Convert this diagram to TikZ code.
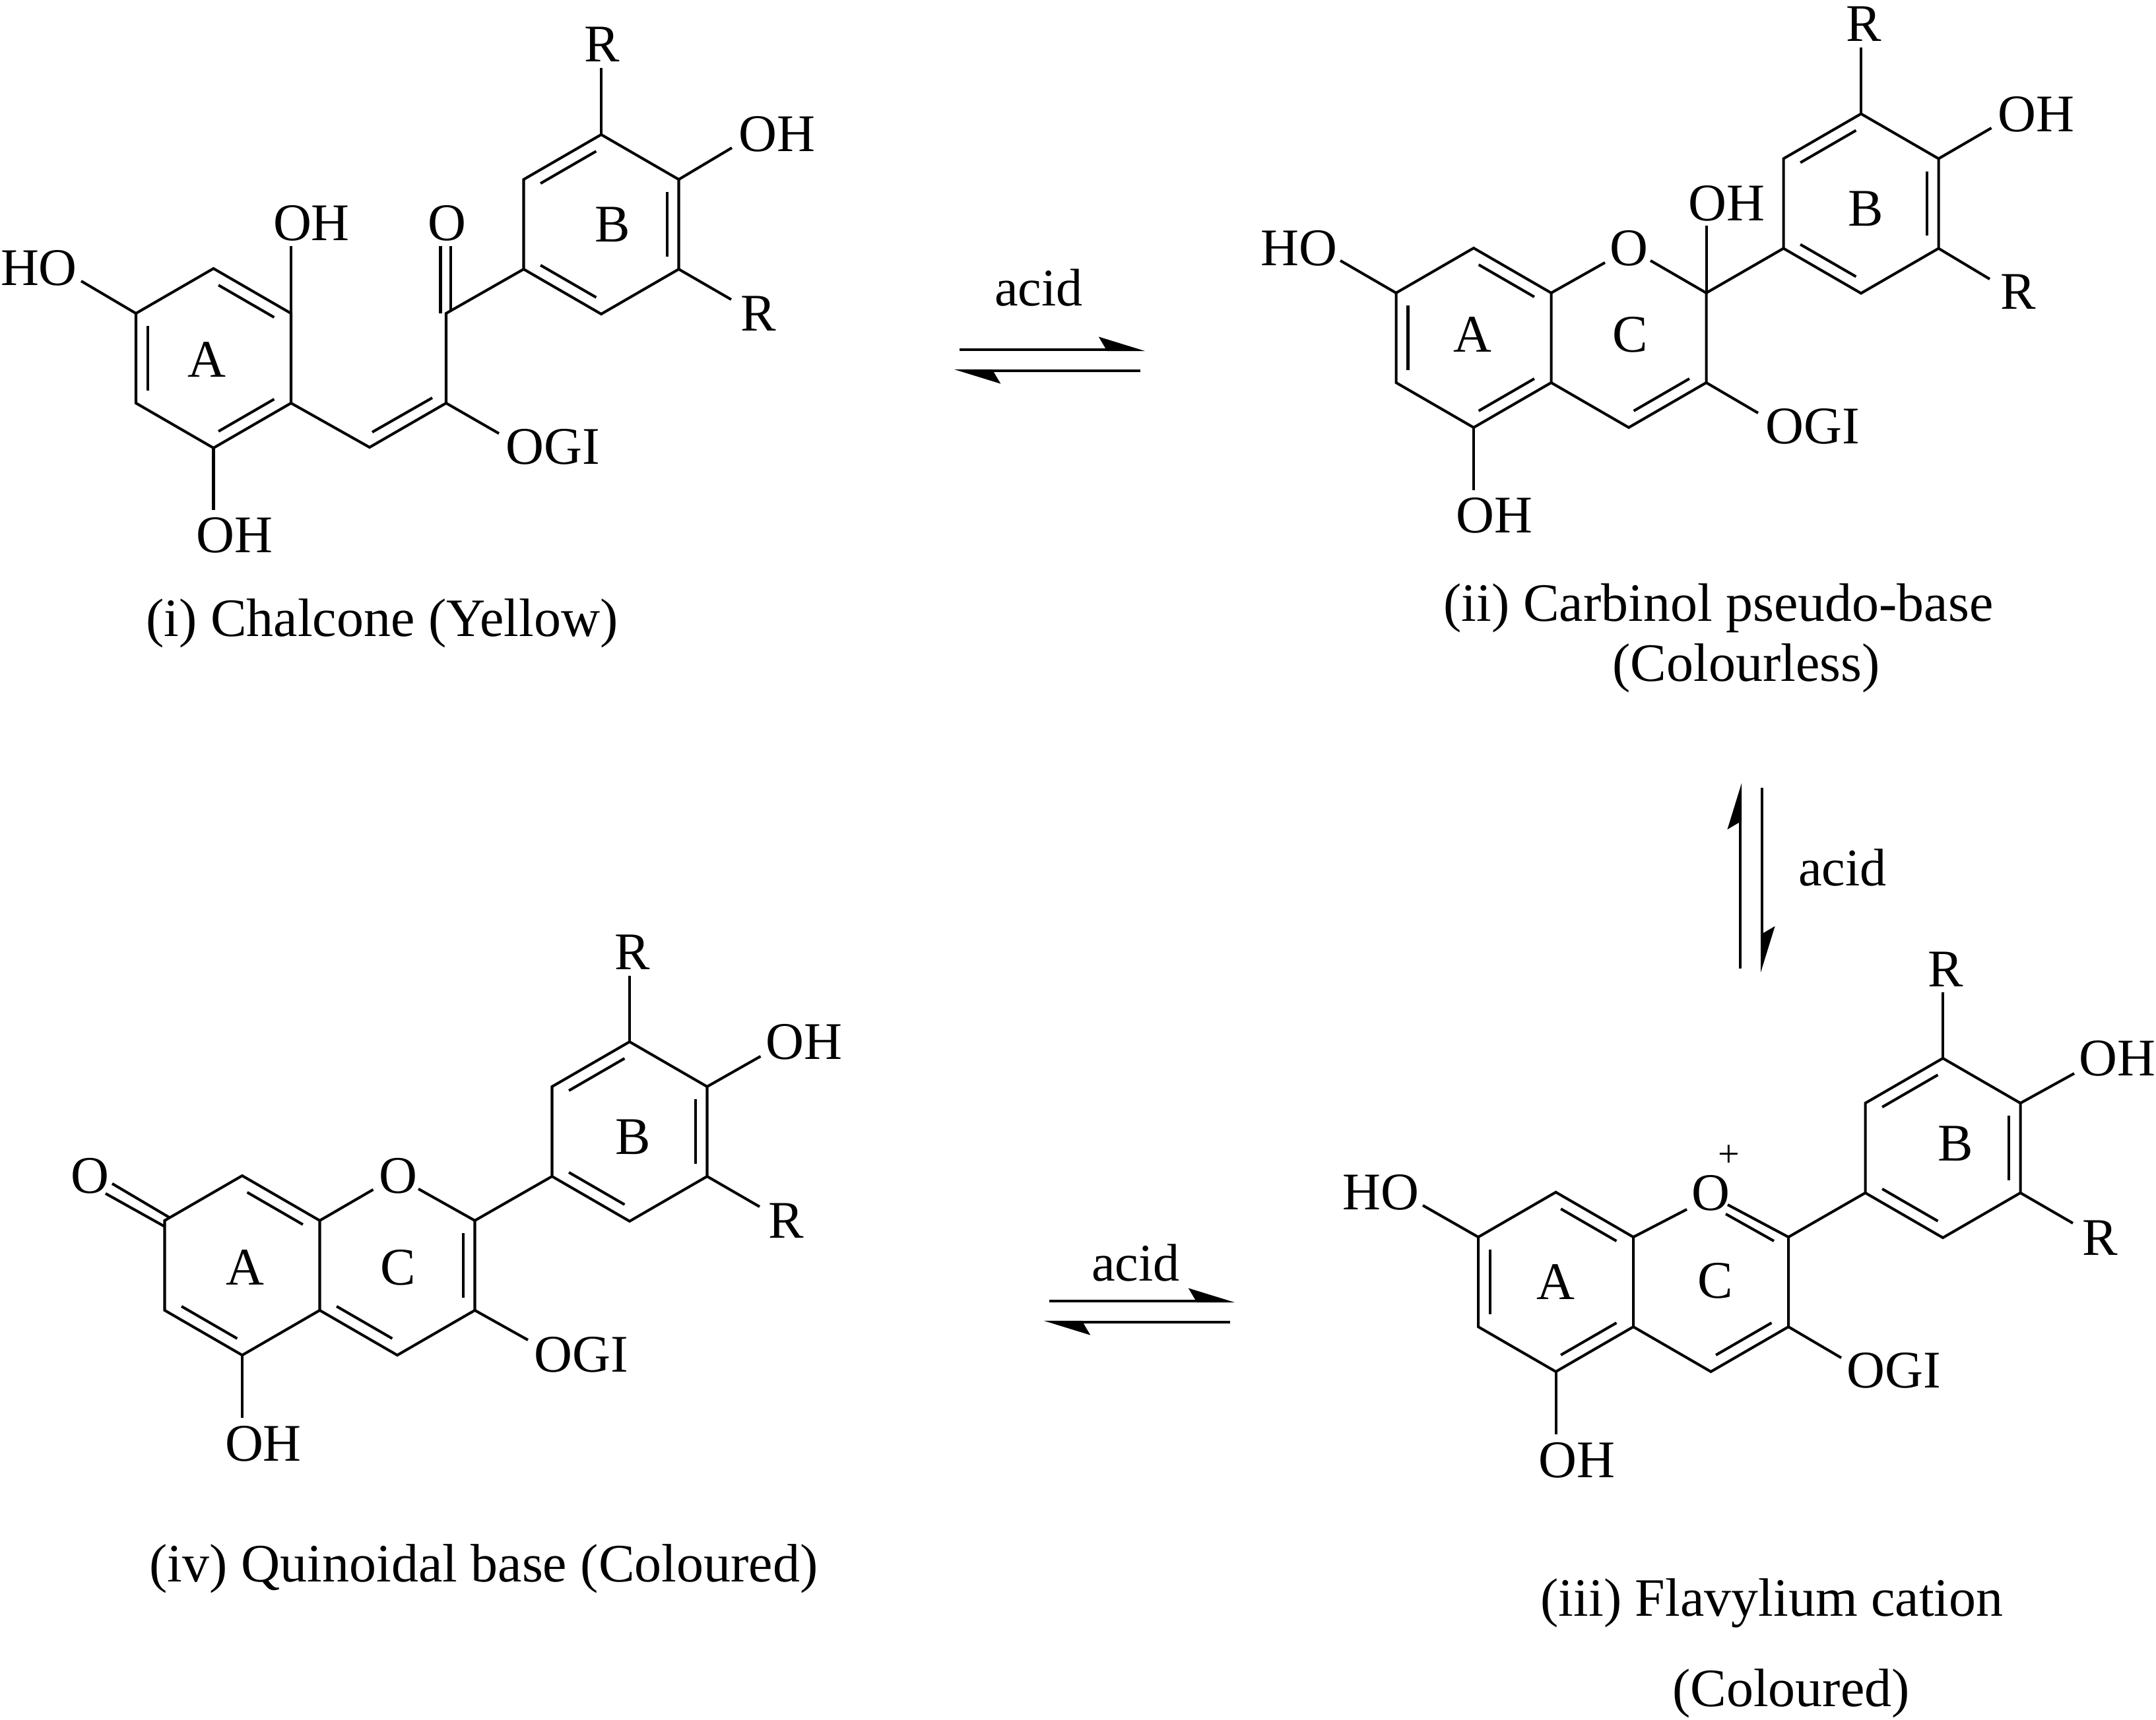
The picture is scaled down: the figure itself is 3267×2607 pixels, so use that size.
\documentclass[tikz,border=0pt]{standalone}
\usepackage{fontspec}
\usepackage{tikz}
\setmainfont{Liberation Serif}
\usetikzlibrary{calc,arrows.meta}

\tikzset{
  bond/.style={line width=1.15pt,line join=miter},
  inner/.style={line width=1.15pt,shorten <=2.5pt,shorten >=2.5pt},
  atom/.style={inner sep=0pt,font=\fontsize{22.8}{27}\selectfont},
  caption/.style={inner sep=0pt,anchor=base,font=\fontsize{23.3}{28}\selectfont},
  eqm/.style={line width=1.15pt,-{Stealth[harpoon,length=18pt,width=11pt,inset=3.2pt]}},
}
% six corners of a ring: top, upper right, lower right, bottom, lower left, upper left
\newcommand{\hexring}[3]{
  \coordinate (#1c) at (#2,#3);
  \coordinate (#1t) at ($(#1c)+(0,-136)$);
  \coordinate (#1ur) at ($(#1c)+(117.5,-68)$);
  \coordinate (#1lr) at ($(#1c)+(117.5,68)$);
  \coordinate (#1b) at ($(#1c)+(0,136)$);
  \coordinate (#1ll) at ($(#1c)+(-117.5,68)$);
  \coordinate (#1ul) at ($(#1c)+(-117.5,-68)$);
}
% inner line of a double bond, pulled towards the ring centre
\newcommand{\dbl}[3]{
  \draw[inner] ($(#1#2)!.153!(#1c)$) -- ($(#1#3)!.153!(#1c)$);
}

\begin{document}
\begin{tikzpicture}[x=0.01cm,y=-0.01cm]
\useasboundingbox (0,0) rectangle (3267,2607);

% (i) chalcone
\hexring{iA}{323.5}{543}
\hexring{iB}{911}{340}
\draw[bond] (iAt) -- (iAur) -- (iAlr) -- (iAb) -- (iAll) -- (iAul) -- cycle;
\draw[bond] (iBt) -- (iBur) -- (iBlr) -- (iBb) -- (iBll) -- (iBul) -- cycle;
\dbl{iA}{t}{ur} \dbl{iA}{lr}{b} \dbl{iA}{ll}{ul}
\dbl{iB}{t}{ul} \dbl{iB}{ur}{lr} \dbl{iB}{b}{ll}
\coordinate (iCo) at (676,475);
\coordinate (iCg) at (676,611);
\coordinate (iCh) at (560,678);
\draw[bond] (iAlr) -- (iCh) -- (iCg) -- (iCo) -- (iBll);
\coordinate (iDa) at ($(iCh)+(4,-23)$);
\coordinate (iDb) at ($(iCg)+(-21,-8)$);
\draw[bond] (iDa) -- (iDb);
\node[atom] (iO) at (677,338) {O};
\coordinate (iOa) at (667.5,373);
\coordinate (iOb) at (667.5,475);
\coordinate (iOc) at (683,373);
\coordinate (iOd) at (683,470);
\draw[bond] (iOa) -- (iOb);
\draw[bond] (iOc) -- (iOd);
\node[atom] (iR1) at (912,67) {R};
\coordinate (iR1e) at (911,103);
\draw[bond] (iBt) -- (iR1e);
\node[atom] (iOH1) at (1177,203) {OH};
\coordinate (iOH1e) at (1109,224);
\draw[bond] (iBur) -- (iOH1e);
\node[atom] (iR2) at (1149,475) {R};
\coordinate (iR2e) at (1108,454);
\draw[bond] (iBlr) -- (iR2e);
\node[atom] (iOH2) at (472,338) {OH};
\coordinate (iOH2e) at (441,373);
\draw[bond] (iAur) -- (iOH2e);
\node[atom] (iHO) at (59,406) {HO};
\coordinate (iHOe) at (123,426);
\draw[bond] (iAul) -- (iHOe);
\node[atom] (iOH3) at (355.5,811) {OH};
\coordinate (iOH3e) at (323.5,773);
\draw[bond] (iAb) -- (iOH3e);
\node[atom] (iOGI) at (838,677) {OGI};
\coordinate (iOGIe) at (756,657);
\draw[bond] (iCg) -- (iOGIe);
\node[atom] (iLA) at (313,545) {A};
\node[atom] (iLB) at (928,340) {B};
\node[caption] (iCap) at (579,964) {(i) Chalcone (Yellow)};

% (ii) carbinol pseudo-base
\hexring{iiA}{2233}{512}
\hexring{iiC}{2468}{512}
\hexring{iiB}{2820}{308.5}
\draw[bond] (iiAt) -- (iiAur) -- (iiAlr) -- (iiAb) -- (iiAll) -- (iiAul) -- cycle;
\draw[bond] (iiBt) -- (iiBur) -- (iiBlr) -- (iiBb) -- (iiBll) -- (iiBul) -- cycle;
\draw[bond] (iiAlr) -- (iiCb) -- (iiClr) -- (iiCur) -- (iiBll);
\dbl{iiA}{t}{ur} \dbl{iiA}{lr}{b} \dbl{iiA}{ll}{ul}
\dbl{iiB}{t}{ul} \dbl{iiB}{ur}{lr} \dbl{iiB}{b}{ll}
\dbl{iiC}{b}{lr}
\node[atom] (iiO) at (2468.5,376) {O};
\coordinate (iiOa) at (2432,398);
\coordinate (iiOb) at (2501,395);
\draw[bond] (iiAur) -- (iiOa);
\draw[bond] (iiOb) -- (iiCur);
\node[atom] (iiOH1) at (2616,308) {OH};
\coordinate (iiOH1e) at (2585.5,342);
\draw[bond] (iiCur) -- (iiOH1e);
\node[atom] (iiR1) at (2824,36) {R};
\coordinate (iiR1e) at (2820,72);
\draw[bond] (iiBt) -- (iiR1e);
\node[atom] (iiOH2) at (3085,173) {OH};
\coordinate (iiOH2e) at (3017.5,194);
\draw[bond] (iiBur) -- (iiOH2e);
\node[atom] (iiR2) at (3058,442) {R};
\coordinate (iiR2e) at (3015,423);
\draw[bond] (iiBlr) -- (iiR2e);
\node[atom] (iiHO) at (1968,376) {HO};
\coordinate (iiHOe) at (2031,395);
\draw[bond] (iiAul) -- (iiHOe);
\node[atom] (iiOGI) at (2747,646) {OGI};
\coordinate (iiOGIe) at (2664,626);
\draw[bond] (iiClr) -- (iiOGIe);
\node[atom] (iiOH3) at (2264,781) {OH};
\coordinate (iiOH3e) at (2233,743);
\draw[bond] (iiAb) -- (iiOH3e);
\node[atom] (iiLA) at (2231,507) {A};
\node[atom] (iiLC) at (2470,507) {C};
\node[atom] (iiLB) at (2827,316) {B};
\node[caption] (iiCap1) at (2604,942) {(ii) Carbinol pseudo-base};
\node[caption] (iiCap2) at (2646,1032) {(Colourless)};

% (iii) flavylium cation
\hexring{iiiA}{2357.5}{1943}
\hexring{iiiC}{2592.5}{1943}
\hexring{iiiB}{2944}{1740}
\draw[bond] (iiiAt) -- (iiiAur) -- (iiiAlr) -- (iiiAb) -- (iiiAll) -- (iiiAul) -- cycle;
\draw[bond] (iiiBt) -- (iiiBur) -- (iiiBlr) -- (iiiBb) -- (iiiBll) -- (iiiBul) -- cycle;
\draw[bond] (iiiAlr) -- (iiiCb) -- (iiiClr) -- (iiiCur) -- (iiiBll);
\dbl{iiiA}{t}{ur} \dbl{iiiA}{lr}{b} \dbl{iiiA}{ll}{ul}
\dbl{iiiB}{t}{ul} \dbl{iiiB}{ur}{lr} \dbl{iiiB}{b}{ll}
\dbl{iiiC}{b}{lr}
\node[atom] (iiiO) at (2592,1808) {O};
\node[atom,font=\fontsize{16.5}{20}\selectfont] (iiiPlus) at (2620,1752) {+};
\coordinate (iiiOa) at (2556,1833);
\coordinate (iiiOb) at (2618,1826);
\coordinate (iiiOc) at (2615,1840);
\coordinate (iiiOd) at (2688,1881);
\draw[bond] (iiiAur) -- (iiiOa);
\draw[bond] (iiiOb) -- (iiiCur);
\draw[bond] (iiiOc) -- (iiiOd);
\node[atom] (iiiR1) at (2948,1469) {R};
\coordinate (iiiR1e) at (2944,1504);
\draw[bond] (iiiBt) -- (iiiR1e);
\node[atom] (iiiOH1) at (3208,1604) {OH};
\coordinate (iiiOH1e) at (3143,1627);
\draw[bond] (iiiBur) -- (iiiOH1e);
\node[atom] (iiiR2) at (3182,1876) {R};
\coordinate (iiiR2e) at (3141,1854);
\draw[bond] (iiiBlr) -- (iiiR2e);
\node[atom] (iiiHO) at (2092,1807) {HO};
\coordinate (iiiHOe) at (2156,1827);
\draw[bond] (iiiAul) -- (iiiHOe);
\node[atom] (iiiOGI) at (2870,2077) {OGI};
\coordinate (iiiOGIe) at (2790,2058);
\draw[bond] (iiiClr) -- (iiiOGIe);
\node[atom] (iiiOH2) at (2389,2213) {OH};
\coordinate (iiiOH2e) at (2357.5,2174);
\draw[bond] (iiiAb) -- (iiiOH2e);
\node[atom] (iiiLA) at (2357.5,1943) {A};
\node[atom] (iiiLC) at (2599,1941) {C};
\node[atom] (iiiLB) at (2963,1733) {B};
\node[caption] (iiiCap1) at (2685,2449) {(iii) Flavylium cation};
\node[caption] (iiiCap2) at (2714,2586) {(Coloured)};

% (iv) quinoidal base
\hexring{ivA}{367}{1918}
\hexring{ivC}{602}{1918}
\hexring{ivB}{954}{1715}
\draw[bond] (ivAur) -- (ivAt) -- (ivAul) -- (ivAll) -- (ivAb) -- (ivAlr) -- cycle;
\draw[bond] (ivBt) -- (ivBur) -- (ivBlr) -- (ivBb) -- (ivBll) -- (ivBul) -- cycle;
\draw[bond] (ivAlr) -- (ivCb) -- (ivClr) -- (ivCur) -- (ivBll);
\dbl{ivA}{t}{ur} \dbl{ivA}{ll}{b}
\dbl{ivB}{t}{ul} \dbl{ivB}{ur}{lr} \dbl{ivB}{b}{ll}
\dbl{ivC}{ur}{lr} \dbl{ivC}{ll}{b}
\node[atom] (ivO1) at (136,1782) {O};
\coordinate (ivO1a) at (170,1794);
\coordinate (ivO1b) at (257,1845.5);
\coordinate (ivO1c) at (160,1809);
\coordinate (ivO1d) at (249.5,1859);
\draw[bond] (ivO1a) -- (ivO1b);
\draw[bond] (ivO1c) -- (ivO1d);
\node[atom] (ivO2) at (603,1782) {O};
\coordinate (ivO2a) at (565.5,1803);
\coordinate (ivO2b) at (634,1802);
\draw[bond] (ivAur) -- (ivO2a);
\draw[bond] (ivO2b) -- (ivCur);
\node[atom] (ivR1) at (958,1443) {R};
\coordinate (ivR1e) at (954,1479);
\draw[bond] (ivBt) -- (ivR1e);
\node[atom] (ivOH1) at (1218,1579) {OH};
\coordinate (ivOH1e) at (1152.5,1601);
\draw[bond] (ivBur) -- (ivOH1e);
\node[atom] (ivR2) at (1191.5,1850) {R};
\coordinate (ivR2e) at (1151,1829);
\draw[bond] (ivBlr) -- (ivR2e);
\node[atom] (ivOGI) at (881,2053) {OGI};
\coordinate (ivOGIe) at (800,2031);
\draw[bond] (ivClr) -- (ivOGIe);
\node[atom] (ivOH2) at (399,2188) {OH};
\coordinate (ivOH2e) at (367,2149);
\draw[bond] (ivAb) -- (ivOH2e);
\node[atom] (ivLA) at (371.5,1921) {A};
\node[atom] (ivLC) at (603,1921) {C};
\node[atom] (ivLB) at (959,1723) {B};
\node[caption] (ivCap) at (733,2397) {(iv) Quinoidal base (Coloured)};

% equilibrium arrows
\node[atom,anchor=base] (acidA) at (1574,464) {acid};
\coordinate (eqAa) at (1454,530);
\coordinate (eqAb) at (1735,530);
\coordinate (eqAc) at (1728,562);
\coordinate (eqAd) at (1446,562);
\draw[eqm] (eqAa) -- (eqAb);
\draw[eqm] (eqAc) -- (eqAd);

\node[atom,anchor=base] (acidB) at (2792,1342) {acid};
\coordinate (eqBa) at (2637,1468);
\coordinate (eqBb) at (2637,1187);
\coordinate (eqBc) at (2670,1194);
\coordinate (eqBd) at (2670,1474);
\draw[eqm] (eqBa) -- (eqBb);
\draw[eqm] (eqBc) -- (eqBd);

\node[atom,anchor=base] (acidC) at (1721,1941) {acid};
\coordinate (eqCa) at (1590,1972);
\coordinate (eqCb) at (1871,1972);
\coordinate (eqCc) at (1864,2004);
\coordinate (eqCd) at (1582,2004);
\draw[eqm] (eqCa) -- (eqCb);
\draw[eqm] (eqCc) -- (eqCd);
\end{tikzpicture}
\end{document}
